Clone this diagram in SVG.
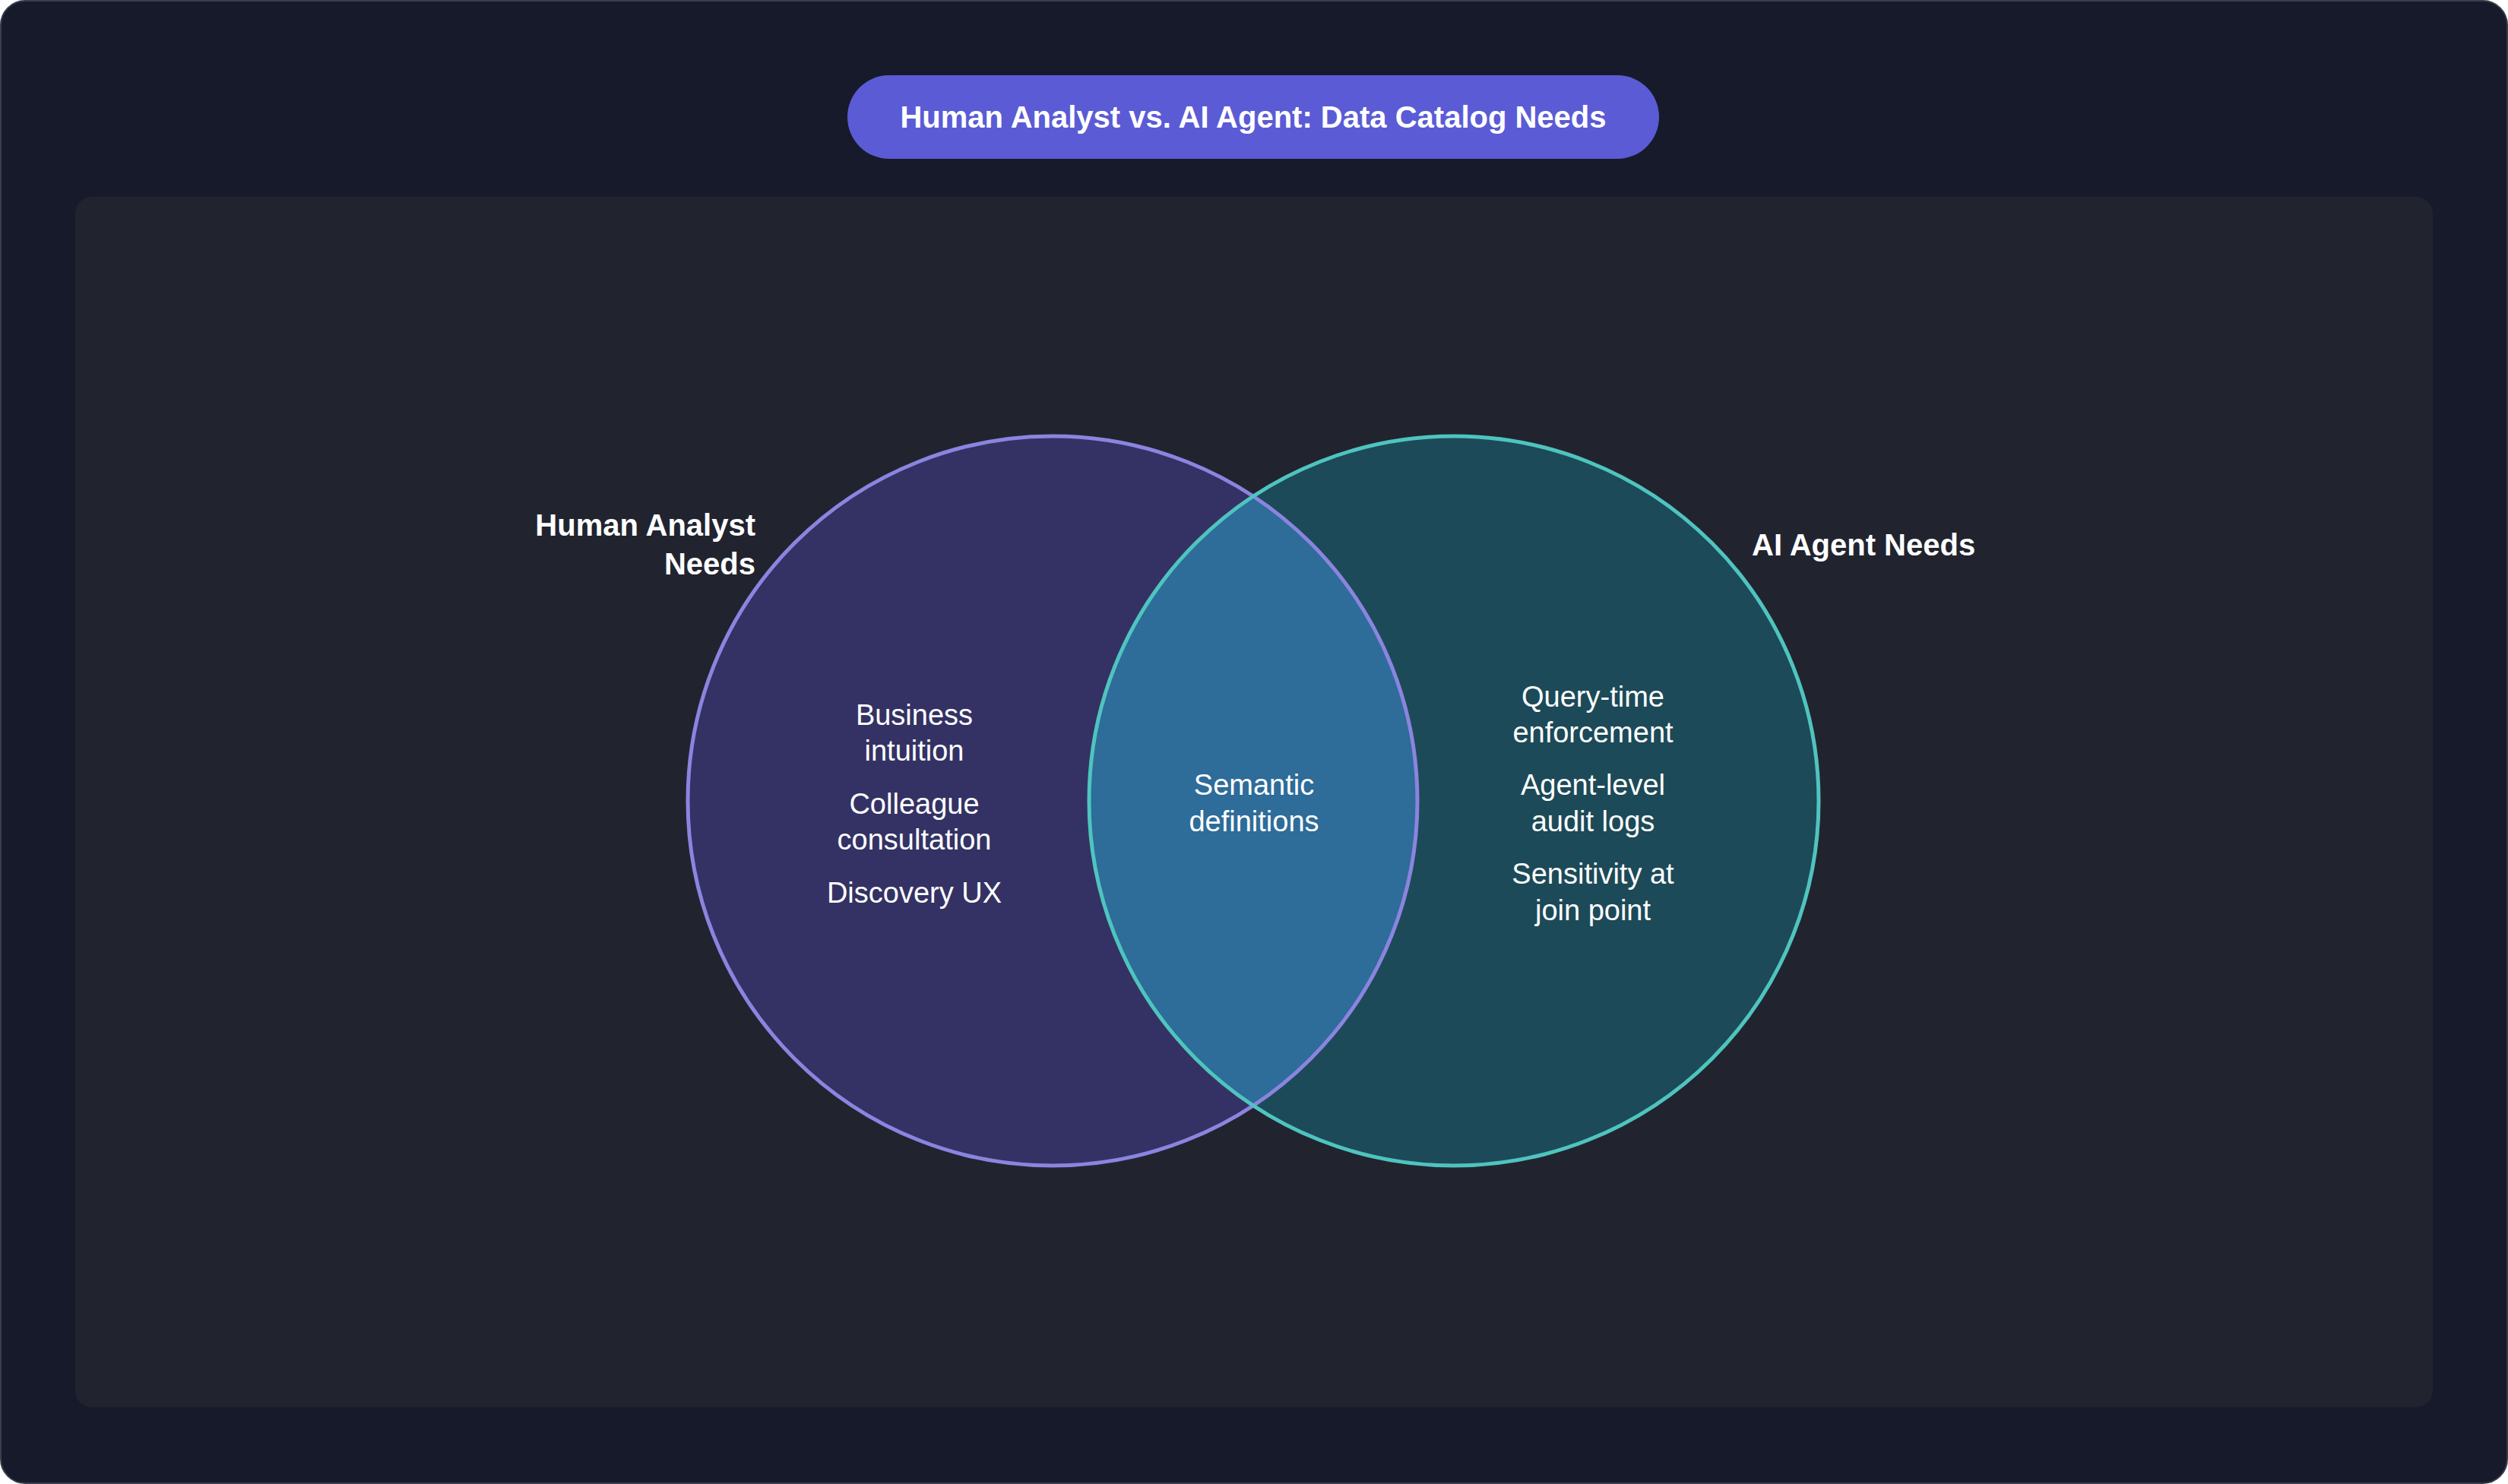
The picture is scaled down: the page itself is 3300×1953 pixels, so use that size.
<svg xmlns="http://www.w3.org/2000/svg" width="3300" height="1953" viewBox="0 0 3300 1953">
<style>
.t{font-family:"Liberation Sans",Arial,sans-serif;fill:#ffffff;font-size:38px;text-anchor:middle}
.h{font-family:"Liberation Sans",Arial,sans-serif;fill:#ffffff;font-size:40px;font-weight:bold}
</style>
<defs>
<clipPath id="cl"><circle cx="1385" cy="1054" r="480"/></clipPath>
</defs>
<rect x="1" y="1" width="3298" height="1951" rx="32" fill="#161a2b" stroke="#3a3e4c" stroke-width="2"/>
<rect x="99" y="259" width="3102" height="1593" rx="22" fill="#21242f"/>
<g id="title">
<rect x="1115" y="99" width="1068" height="110" rx="55" fill="#5b5bd6"/>
<text class="h" x="1649" y="168" text-anchor="middle">Human Analyst vs. AI Agent: Data Catalog Needs</text>
</g>
<g id="human">
<circle cx="1385" cy="1054" r="480" fill="#343264"/>
</g>
<g id="agent">
<circle cx="1913" cy="1054" r="480" fill="#1d4a58"/>
</g>
<g id="overlap">
<circle cx="1913" cy="1054" r="480" fill="#2e6c99" clip-path="url(#cl)"/>
</g>
<g id="outlines" fill="none" stroke-width="5">
<circle cx="1385" cy="1054" r="480" stroke="#8b84e0"/>
<circle cx="1913" cy="1054" r="480" stroke="#4fc4bf"/>
</g>
<g id="labels">
<text class="h" x="994" y="705" text-anchor="end">Human Analyst</text>
<text class="h" x="994" y="756" text-anchor="end">Needs</text>
<text class="h" x="2305" y="731">AI Agent Needs</text>
<text class="t" x="1203" y="954">Business</text>
<text class="t" x="1203" y="1001">intuition</text>
<text class="t" x="1203" y="1071">Colleague</text>
<text class="t" x="1203" y="1118">consultation</text>
<text class="t" x="1203" y="1188">Discovery UX</text>
<text class="t" x="1650" y="1046">Semantic</text>
<text class="t" x="1650" y="1094">definitions</text>
<text class="t" x="2096" y="930">Query-time</text>
<text class="t" x="2096" y="977">enforcement</text>
<text class="t" x="2096" y="1046">Agent-level</text>
<text class="t" x="2096" y="1094">audit logs</text>
<text class="t" x="2096" y="1163">Sensitivity at</text>
<text class="t" x="2096" y="1211">join point</text>
</g>
</svg>
